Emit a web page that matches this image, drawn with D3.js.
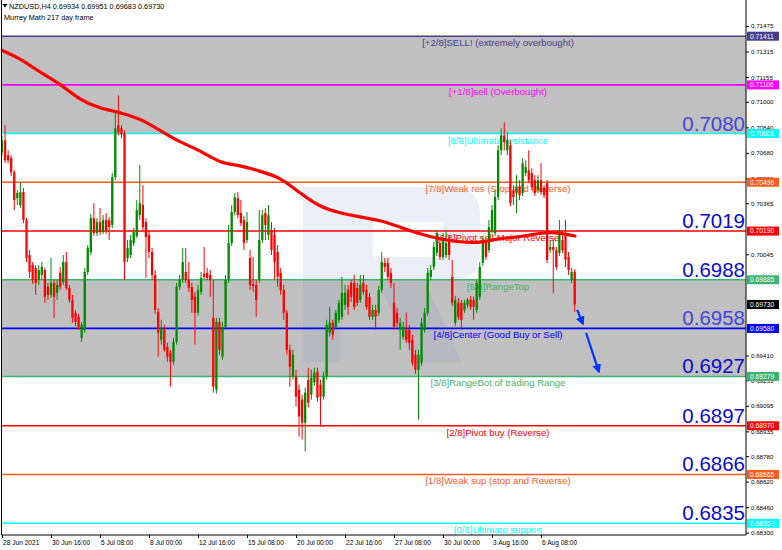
<!DOCTYPE html>
<html><head><meta charset="utf-8">
<script src="https://cdn.jsdelivr.net/npm/d3@7"></script>
<style>
html,body{margin:0;padding:0;background:#fff;}
svg{display:block;font-family:"Liberation Sans",Arial,sans-serif;}
</style></head><body>
<svg id="chart" width="782" height="550"></svg>
<script>
// ---------- DATA ----------
const headerText = "NZDUSD,H4  0.69934 0.69951 0.69683 0.69730";
const subtitle = "Murrey Math 217 day frame";

const open = [0.70684,0.70759,0.70665,0.70646,0.70559,0.70396,0.70353,0.70434,0.70259,0.70040,
0.69978,0.69959,0.69884,0.69915,0.69946,0.69840,0.69790,0.69865,0.69803,0.69928,
0.69871,0.69996,0.69834,0.69759,0.69678,0.69653,0.69521,0.69571,0.69934,0.70059,
0.70271,0.70178,0.70246,0.70184,0.70259,0.70259,0.70228,0.70528,0.70853,0.70834,
0.70803,0.70021,0.70040,0.70115,0.70159,0.70290,0.70353,0.70246,0.70165,0.70059,
0.69915,0.69684,0.69509,0.69571,0.69465,0.69428,0.69371,0.69496,0.69840,0.69884,
0.69934,0.69884,0.69840,0.69778,0.69678,0.69809,0.69921,0.69928,0.69915,0.69646,
0.69196,0.69621,0.69403,0.69590,0.69884,0.70115,0.70309,0.70396,0.70303,0.70259,
0.70134,0.70021,0.69859,0.69853,0.69884,0.70134,0.70303,0.70165,0.70196,0.70165,
0.70059,0.69928,0.69821,0.69678,0.69446,0.69278,0.69278,0.69196,0.69134,0.68990,
0.69259,0.69165,0.69240,0.69309,0.69228,0.69153,0.69278,0.69553,0.69615,0.69590,
0.69634,0.69653,0.69728,0.69821,0.69865,0.69865,0.69834,0.69759,0.69865,0.69821,
0.69778,0.69653,0.69696,0.69678,0.69821,0.69990,0.69990,0.69928,0.69740,0.69678,
0.69571,0.69528,0.69571,0.69571,0.69509,0.69415,0.69321,0.69365,0.69571,0.69678,
0.69903,0.69965,0.70053,0.70115,0.70028,0.70040,0.70134,0.69903,0.69615,0.69740,
0.69740,0.69696,0.69728,0.69759,0.69759,0.69696,0.69778,0.69990,0.70115,0.70071,
0.70196,0.70178,0.70403,0.70696,0.70790,0.70696,0.70728,0.70446,0.70428,0.70471,
0.70428,0.70553,0.70571,0.70553,0.70509,0.70446,0.70509,0.70459,0.70490,0.70071,
0.70090,0.70071,0.70053,0.70134,0.70178,0.70028,0.69884,0.69934];

const high = [0.70790,0.70853,0.70696,0.70665,0.70571,0.70446,0.70496,0.70459,0.70271,0.70071,
0.69996,0.69978,0.69978,0.69996,0.69959,0.69865,0.70021,0.69884,0.69884,0.69965,
0.70040,0.70059,0.69853,0.69790,0.69696,0.69671,0.69621,0.69959,0.70103,0.70296,
0.70365,0.70271,0.70334,0.70290,0.70303,0.70278,0.70553,0.70934,0.71040,0.70853,
0.70821,0.70134,0.70165,0.70209,0.70384,0.70603,0.70478,0.70271,0.70196,0.70084,
0.69946,0.69709,0.69634,0.69603,0.69490,0.69446,0.69521,0.69865,0.69915,0.70084,
0.70084,0.69996,0.69865,0.69809,0.69853,0.69934,0.70090,0.69959,0.69946,0.69884,
0.69646,0.69646,0.69621,0.69915,0.70228,0.70353,0.70428,0.70434,0.70384,0.70284,
0.70309,0.70071,0.70028,0.69884,0.70321,0.70321,0.70334,0.70353,0.70246,0.70209,
0.70103,0.69959,0.69853,0.69696,0.69478,0.69446,0.69321,0.69228,0.69165,0.69209,
0.69334,0.69321,0.69334,0.69334,0.69259,0.69309,0.69634,0.69715,0.69634,0.69696,
0.69759,0.69903,0.69853,0.69853,0.69884,0.69915,0.69865,0.69915,0.69915,0.69853,
0.69803,0.69728,0.69728,0.69846,0.70059,0.70021,0.70021,0.69959,0.69865,0.69709,
0.69646,0.69621,0.69678,0.69603,0.69540,0.69446,0.69446,0.69646,0.69709,0.69959,
0.69978,0.70121,0.70196,0.70146,0.70178,0.70196,0.70165,0.70009,0.69784,0.69771,
0.69759,0.69759,0.69771,0.69784,0.69778,0.69884,0.69996,0.70159,0.70134,0.70259,
0.70353,0.70446,0.70728,0.70834,0.70871,0.70809,0.70759,0.70478,0.70540,0.70509,
0.70646,0.70634,0.70696,0.70584,0.70540,0.70540,0.70615,0.70478,0.70509,0.70134,
0.70134,0.70090,0.70259,0.70196,0.70259,0.70059,0.69959,0.69951];

const low = [0.70665,0.70615,0.70615,0.70534,0.70321,0.70353,0.70334,0.70240,0.69996,0.69896,
0.69859,0.69790,0.69853,0.69884,0.69740,0.69759,0.69771,0.69646,0.69759,0.69821,
0.69853,0.69821,0.69740,0.69615,0.69596,0.69571,0.69496,0.69553,0.69915,0.70040,
0.70159,0.70159,0.70165,0.70171,0.70171,0.70134,0.70209,0.70509,0.70790,0.70771,
0.69884,0.69996,0.70021,0.70096,0.70146,0.70259,0.70196,0.69896,0.70021,0.69884,
0.69671,0.69403,0.69478,0.69434,0.69371,0.69215,0.69353,0.69478,0.69821,0.69865,
0.69865,0.69809,0.69678,0.69478,0.69659,0.69790,0.69890,0.69884,0.69778,0.69178,
0.69171,0.69415,0.69384,0.69571,0.69865,0.70096,0.70290,0.70271,0.70221,0.70071,
0.70115,0.69821,0.69809,0.69653,0.69865,0.70115,0.70134,0.70134,0.70040,0.69884,
0.69840,0.69790,0.69634,0.69415,0.69215,0.69259,0.69090,0.68903,0.68884,0.68809,
0.69084,0.69134,0.69221,0.69121,0.68965,0.69134,0.69259,0.69528,0.69509,0.69571,
0.69615,0.69634,0.69696,0.69665,0.69746,0.69696,0.69721,0.69740,0.69790,0.69696,
0.69634,0.69634,0.69571,0.69659,0.69803,0.69934,0.69884,0.69834,0.69571,0.69590,
0.69446,0.69509,0.69490,0.69446,0.69346,0.69296,0.69009,0.69346,0.69553,0.69659,
0.69884,0.69946,0.70034,0.70009,0.70009,0.70021,0.70009,0.69721,0.69596,0.69634,
0.69571,0.69678,0.69709,0.69696,0.69634,0.69678,0.69759,0.69971,0.70009,0.70053,
0.70178,0.70159,0.70384,0.70665,0.70696,0.70665,0.70346,0.70353,0.70303,0.70384,
0.70409,0.70534,0.70490,0.70446,0.70409,0.70428,0.70415,0.70396,0.69990,0.70053,
0.69803,0.69946,0.70034,0.70053,0.69965,0.69915,0.69865,0.69683];

const close = [0.70759,0.70634,0.70634,0.70559,0.70384,0.70428,0.70434,0.70259,0.70021,0.69934,
0.69884,0.69865,0.69946,0.69965,0.69778,0.69790,0.69865,0.69778,0.69853,0.69840,
0.69996,0.69834,0.69759,0.69646,0.69621,0.69590,0.69603,0.69934,0.70084,0.70271,
0.70178,0.70246,0.70184,0.70259,0.70196,0.70215,0.70528,0.70834,0.70809,0.70796,
0.69996,0.70084,0.70134,0.70184,0.70321,0.70365,0.70215,0.70153,0.70059,0.69915,
0.69696,0.69553,0.69584,0.69446,0.69403,0.69371,0.69496,0.69840,0.69884,0.69996,
0.69884,0.69834,0.69759,0.69678,0.69821,0.69896,0.69903,0.69896,0.69884,0.69215,
0.69621,0.69446,0.69590,0.69884,0.70115,0.70309,0.70403,0.70290,0.70240,0.70115,
0.70246,0.69853,0.69846,0.69759,0.70134,0.70290,0.70228,0.70290,0.70071,0.69996,
0.69903,0.69821,0.69678,0.69446,0.69340,0.69415,0.69153,0.69028,0.68990,0.69178,
0.69115,0.69271,0.69303,0.69146,0.69153,0.69278,0.69603,0.69615,0.69540,0.69678,
0.69740,0.69803,0.69803,0.69715,0.69778,0.69715,0.69740,0.69853,0.69809,0.69715,
0.69653,0.69696,0.69653,0.69821,0.69996,0.69965,0.69903,0.69865,0.69590,0.69615,
0.69615,0.69590,0.69509,0.69490,0.69365,0.69321,0.69415,0.69615,0.69678,0.69928,
0.69946,0.70090,0.70178,0.70028,0.70134,0.70115,0.70040,0.69740,0.69759,0.69653,
0.69634,0.69740,0.69759,0.69715,0.69715,0.69865,0.69965,0.70134,0.70028,0.70215,
0.70321,0.70403,0.70696,0.70790,0.70746,0.70759,0.70365,0.70403,0.70471,0.70415,
0.70615,0.70590,0.70509,0.70465,0.70428,0.70509,0.70434,0.70415,0.70009,0.70090,
0.70071,0.69965,0.70196,0.70071,0.70009,0.69946,0.69934,0.69730];

// moving average read at bar positions
const maIndex = [0,5.9,12.4,18.9,25.5,32,38.5,45,51.6,58.1,64.7,71.2,77.7,84.2,90.8,97.3,103.8,110.4,116.9,123.4,130,136.5,143,149.6,156.1,162.6,169.1,175.7,180.6,187.1];
const maValue = [0.71322,0.71272,0.71184,0.71115,0.71009,0.70959,0.70934,0.70896,0.70821,0.70746,0.70696,0.70615,0.70603,0.70565,0.70528,0.70428,0.70340,0.70303,0.70278,0.70259,0.70215,0.70171,0.70140,0.70121,0.70115,0.70146,0.70153,0.70178,0.70184,0.70159];

const levelValues = [0.71411,0.71106,0.70801,0.70496,0.70190,0.69885,0.69580,0.69279,0.68970,0.68665,0.68359];
const levelNames = ["[+2/8]SELL! (extremely overbought)","[+1/8]sell (Overbought)","[8/8]Ultimate resistance","[7/8]Weak res (Stop and Reverse)","[6/8]Pivot sell  Major Reverse","[5/8]RangeTop","[4/8]Center (Good Buy or Sell)","[3/8]RangeBot of trading Range","[2/8]Pivot buy (Reverse)","[1/8]Weak sup (stop and Reverse)","[0/8]Ultimate support"];
const bigLabelValues = [0.70801,0.70190,0.69885,0.69580,0.69279,0.68970,0.68665,0.68359];
const bigLabelTexts = ["0.7080","0.7019","0.6988","0.6958","0.6927","0.6897","0.6866","0.6835"];
const shadedZones = [[0.71411,0.70801],[0.69885,0.69279]];
const currentPrice = 0.69730;

const yTicks = [0.71475,0.71315,0.71155,0.71000,0.70840,0.70680,0.70520,0.70365,0.70045,0.69410,0.69255,0.69095,0.68935,0.68780,0.68620,0.68460,0.68300];
const xTickIndex = [0,16,32,48,64,80,96,112,128,144,160,176];
const xTickLabels = ["28 Jun 2021","30 Jun 16:00","5 Jul 08:00","8 Jul 00:00","12 Jul 16:00","15 Jul 08:00","20 Jul 00:00","22 Jul 16:00","27 Jul 08:00","30 Jul 00:00","3 Aug 16:00","6 Aug 08:00"];
const arrowsData = [[[187.8,0.69696],[189.7,0.69609]],[[190.7,0.69553],[194.9,0.69309]]];

// ---------- STYLE ----------
const levelColors = ["#483d8b","#ff00ff","#00ffff","#ff5a1e","#ff0000","#3cb371","#0000ff","#3cb371","#ff0000","#ff5a1e","#00ffff"];
const bigLabelColors = ["#4545dc","#0a0ad0","#0a0ad0","#4545dc","#0a0ad0","#0a0ad0","#0a0ad0","#0a0ad0"];
const UP = "#008a00", DOWN = "#ff0000";
const W = 782, H = 550;
const plotL = 2, plotR = 746, plotT = 0, plotB = 535;

const svg = d3.select("#chart");
const x = d3.scaleLinear().domain([0,176]).range([2,541]);
const y = d3.scaleLinear().domain([0.68300,0.71475]).range([532.7,26]);

svg.append("rect").attr("width",W).attr("height",H).attr("fill","#fff");

const defs = svg.append("defs");
defs.append("clipPath").attr("id","plotclip").append("rect")
  .attr("x",plotL).attr("y",plotT).attr("width",plotR-plotL).attr("height",plotB-plotT);
defs.append("marker").attr("id","arrowhead").attr("viewBox","0 0 10 10")
  .attr("refX",8).attr("refY",5).attr("markerWidth",9).attr("markerHeight",9)
  .attr("markerUnits","userSpaceOnUse").attr("orient","auto")
  .append("path").attr("d","M0,0 L10,5 L0,10 Z").attr("fill","#0033ff");

const plot = svg.append("g").attr("clip-path","url(#plotclip)");

// shaded zones
plot.selectAll("rect.zone").data(shadedZones).join("rect").attr("class","zone")
  .attr("x",plotL).attr("width",plotR-plotL)
  .attr("y",d=>y(d[0])).attr("height",d=>y(d[1])-y(d[0]))
  .attr("fill","#c0c0c0");

// watermark logo (decorative)
plot.append("path")
  .attr("d","M303,187 H452 Q480,187 480,215 V252 Q480,280 452,280 H424 L462,362 H415 L377,280 H340 V362 H303 Z M373,222 V257 H443 V222 Z")
  .attr("fill-rule","evenodd").attr("fill","#7f95c0").attr("opacity",0.15);

// level lines
plot.selectAll("line.level").data(levelValues).join("line").attr("class","level")
  .attr("x1",plotL).attr("x2",plotR)
  .attr("y1",d=>y(d)).attr("y2",d=>y(d))
  .attr("stroke",(d,i)=>levelColors[i]).attr("stroke-width",1.6);

// level texts
plot.selectAll("text.lvl").data(levelValues).join("text").attr("class","lvl")
  .attr("x",498).attr("y",d=>y(d)+10)
  .attr("text-anchor","middle").attr("font-size","9.6px")
  .attr("fill",(d,i)=>levelColors[i]).text((d,i)=>levelNames[i]);

// candles
const idx = d3.range(close.length);
const bw = 2.3;
plot.selectAll("line.wick").data(idx).join("line").attr("class","wick")
  .attr("x1",i=>x(i)).attr("x2",i=>x(i))
  .attr("y1",i=>y(high[i])).attr("y2",i=>y(low[i]))
  .attr("stroke",i=>close[i]>=open[i]?UP:DOWN).attr("stroke-width",1);
plot.selectAll("rect.body").data(idx).join("rect").attr("class","body")
  .attr("x",i=>x(i)-bw/2).attr("width",bw)
  .attr("y",i=>y(Math.max(open[i],close[i])))
  .attr("height",i=>Math.max(1,Math.abs(y(open[i])-y(close[i]))))
  .attr("fill",i=>close[i]>=open[i]?UP:DOWN);

// moving average
const maPts = maIndex.map((d,i)=>[d,maValue[i]]);
plot.append("path").datum(maPts)
  .attr("d",d3.line().x(d=>x(d[0])).y(d=>y(d[1])).curve(d3.curveBasis))
  .attr("fill","none").attr("stroke","#ff0000").attr("stroke-width",3.2)
  .attr("stroke-linecap","round");

// big price labels
plot.selectAll("text.big").data(bigLabelValues).join("text").attr("class","big")
  .attr("x",745).attr("y",d=>y(d)-3)
  .attr("text-anchor","end").attr("font-size","20.5px")
  .attr("fill",(d,i)=>bigLabelColors[i]).text((d,i)=>bigLabelTexts[i]);

// arrows
plot.selectAll("line.arrow").data(arrowsData).join("line").attr("class","arrow")
  .attr("x1",d=>x(d[0][0])).attr("y1",d=>y(d[0][1]))
  .attr("x2",d=>x(d[1][0])).attr("y2",d=>y(d[1][1]))
  .attr("stroke","#0033ff").attr("stroke-width",2.2)
  .attr("marker-end","url(#arrowhead)");

// frame
svg.append("line").attr("x1",1.5).attr("x2",1.5).attr("y1",0).attr("y2",plotB).attr("stroke","#000");
svg.append("line").attr("x1",1.5).attr("x2",plotR).attr("y1",plotB).attr("y2",plotB).attr("stroke","#000");
svg.append("line").attr("x1",plotR).attr("x2",plotR).attr("y1",0).attr("y2",plotB).attr("stroke","#000");

// right axis
const ra = svg.append("g").attr("transform",`translate(${plotR},0)`)
  .call(d3.axisRight(y).tickValues(yTicks).tickFormat(d3.format(".5f")).tickSize(3).tickPadding(2).tickSizeOuter(0));
ra.select(".domain").remove();
ra.selectAll("text").attr("font-size","6.2px").attr("font-family","'Liberation Sans',Arial,sans-serif").attr("fill","#000");
ra.selectAll("line").attr("stroke","#000");

// bottom axis
const ba = svg.append("g").attr("transform",`translate(0,${plotB})`)
  .call(d3.axisBottom(x).tickValues(xTickIndex).tickFormat((d,i)=>xTickLabels[i]).tickSize(3).tickSizeOuter(0));
ba.select(".domain").remove();
ba.selectAll("text").attr("text-anchor","start").attr("dx","0.5").attr("y",5)
  .attr("font-size","6.6px").attr("font-family","'Liberation Sans',Arial,sans-serif").attr("fill","#000");
ba.selectAll("line").attr("stroke","#000");

// colored value labels on the right axis
const tagVals = levelValues.concat([currentPrice]);
const tagCols = levelColors.concat(["#000000"]);
const tags = svg.append("g");
tags.selectAll("rect").data(tagVals).join("rect")
  .attr("x",747).attr("width",32).attr("y",d=>y(d)-4.5).attr("height",9)
  .attr("fill",(d,i)=>tagCols[i]);
tags.selectAll("text").data(tagVals).join("text")
  .attr("x",750).attr("y",d=>y(d)+2.3)
  .attr("font-size","6.7px").attr("fill","#fff").text(d=>d3.format(".5f")(d));

// header
svg.append("path").attr("d","M2.5,4 L7.5,4 L5,7.5 Z").attr("fill","#000");
svg.append("text").attr("x",9).attr("y",8.5).attr("font-size","7.3px").attr("fill","#000").text(headerText);
svg.append("text").attr("x",4).attr("y",19.5).attr("font-size","7.3px").attr("fill","#000").text(subtitle);
</script>
</body></html>
